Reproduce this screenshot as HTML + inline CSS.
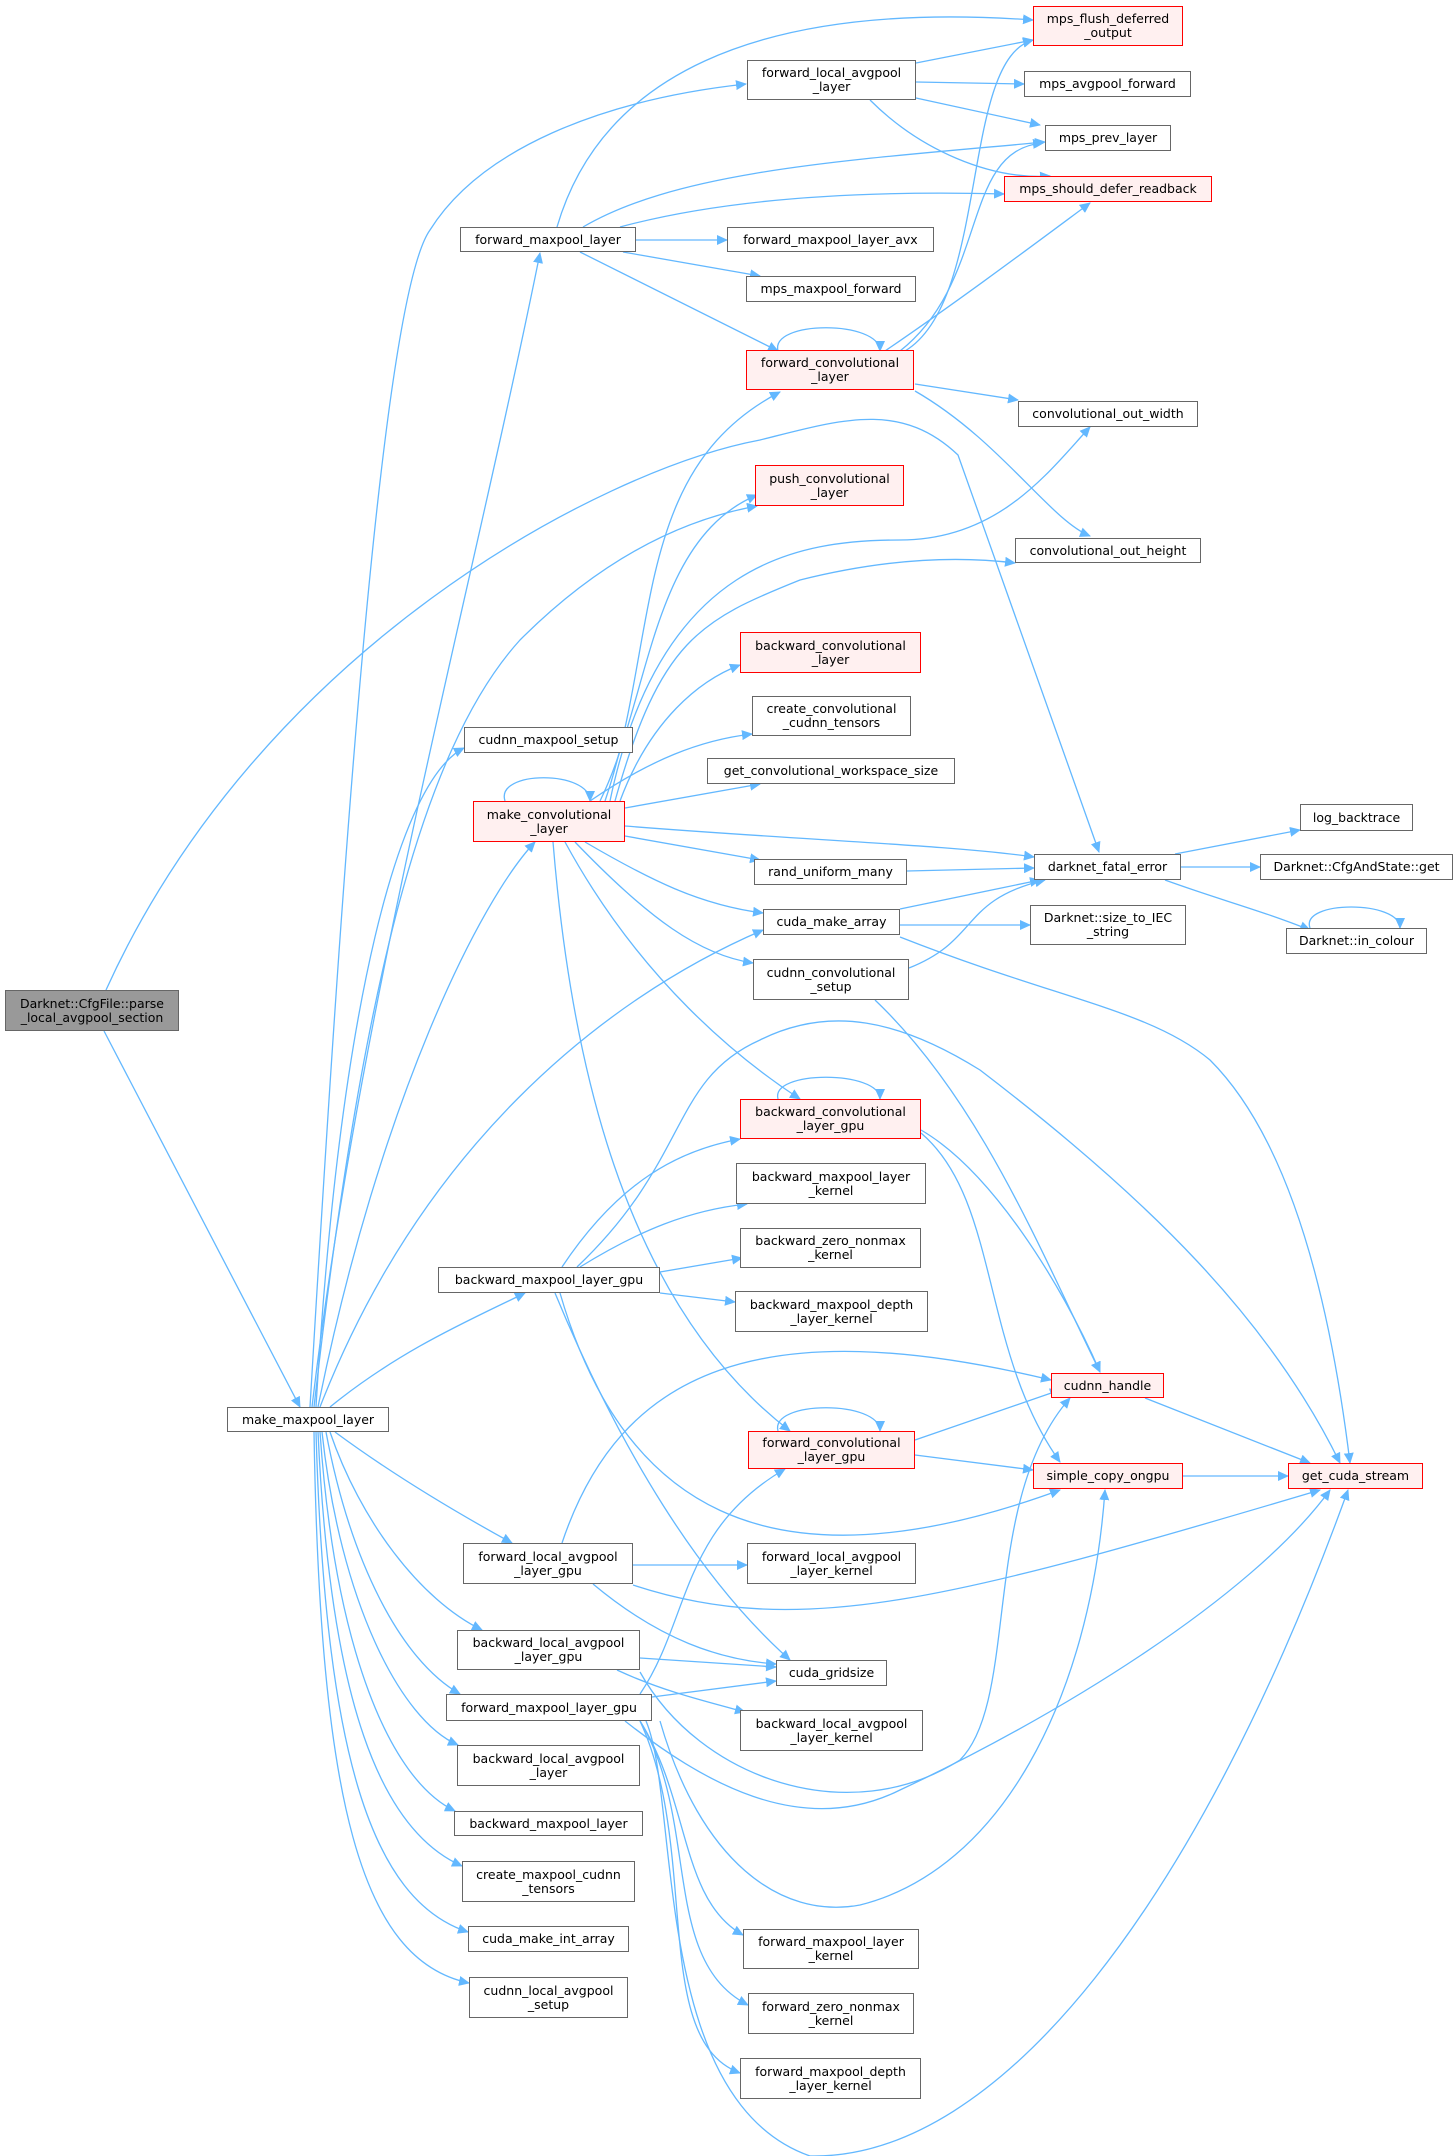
<!DOCTYPE html>
<html><head><meta charset="utf-8"><style>
html,body{margin:0;padding:0;background:#fff;}
body{width:1455px;height:2156px;position:relative;overflow:hidden;font-family:"DejaVu Sans","Liberation Sans",sans-serif;}
.n{position:absolute;box-sizing:border-box;border:1.3px solid #666;background:#fff;color:#000;font-size:12.5px;line-height:14px;text-align:center;display:flex;align-items:center;justify-content:center;white-space:pre;}
.r{border-color:#f00;background:#fff0f0;}
.g{background:#999;border-color:#666;}
svg{position:absolute;left:0;top:0;}
</style></head><body>
<svg width="1455" height="2156" viewBox="0 0 1455 2156">
<defs><marker id="a" markerWidth="12" markerHeight="10" refX="10" refY="5" orient="auto" markerUnits="userSpaceOnUse"><path d="M0,0 L11,5 L0,10 z" fill="#63b8ff"/></marker></defs>
<g fill="none" stroke="#63b8ff" stroke-width="1.3" marker-end="url(#a)">
<path d="M104,1031 L300,1407"/>
<path d="M106,990 C260,650 600,470 760,440 C840,420 900,400 958,455 L1099,852"/>
<path d="M312,1407 C360,1000 470,600 540,253"/>
<path d="M310,1407 C340,900 380,300 430,230 C480,150 600,100 746,84"/>
<path d="M314,1407 C360,1000 420,750 520,640 C600,560 680,520 757,506"/>
<path d="M316,1407 C340,1000 400,780 464,748"/>
<path d="M318,1407 C380,1100 480,900 535,842"/>
<path d="M320,1407 C420,1150 600,1000 763,930"/>
<path d="M330,1407 C400,1350 470,1320 525,1293"/>
<path d="M335,1432 C400,1480 470,1520 512,1543"/>
<path d="M330,1432 C360,1520 420,1600 482,1630"/>
<path d="M326,1432 C350,1560 400,1660 460,1694"/>
<path d="M322,1432 C340,1600 400,1720 458,1745"/>
<path d="M320,1432 C335,1650 390,1780 455,1811"/>
<path d="M318,1432 C330,1700 380,1830 462,1866"/>
<path d="M316,1432 C325,1750 370,1900 468,1932"/>
<path d="M314,1432 C320,1800 360,1960 469,1983"/>
<path d="M557,227 C600,80 750,0 1033,20"/>
<path d="M583,227 C680,170 850,160 1045,142"/>
<path d="M620,227 C720,200 850,190 1004,194"/>
<path d="M636,240 L727,240"/>
<path d="M623,252 L760,276"/>
<path d="M580,252 L778,351"/>
<path d="M916,63 L1033,40"/>
<path d="M916,82 L1024,84"/>
<path d="M916,98 L1040,125"/>
<path d="M870,100 C920,150 990,180 1050,176"/>
<path d="M778,351 C770,320 880,320 880,351"/>
<path d="M905,351 C990,300 960,60 1033,40"/>
<path d="M900,351 C990,280 960,150 1043,143"/>
<path d="M885,351 C960,300 1040,240 1090,203"/>
<path d="M915,384 L1018,400"/>
<path d="M915,391 C1000,440 1050,520 1090,536"/>
<path d="M505,801 C495,770 590,770 590,801"/>
<path d="M605,801 C660,640 630,470 780,392"/>
<path d="M600,801 C650,700 650,540 757,495"/>
<path d="M610,801 C660,560 800,540 900,540 C1000,540 1050,470 1090,427"/>
<path d="M615,801 C660,640 700,620 800,580 C880,560 950,555 1015,563"/>
<path d="M620,801 C650,720 700,680 740,665"/>
<path d="M590,801 C650,760 700,740 752,734"/>
<path d="M625,808 L760,784"/>
<path d="M625,826 C800,840 950,845 1034,857"/>
<path d="M625,836 L760,860"/>
<path d="M585,842 C650,880 700,905 763,913"/>
<path d="M575,842 C650,920 700,955 753,963"/>
<path d="M565,842 C640,980 740,1060 800,1099"/>
<path d="M553,842 C570,1050 620,1300 790,1431"/>
<path d="M1175,854 L1300,830"/>
<path d="M1181,867 L1260,867"/>
<path d="M1165,880 C1220,900 1260,910 1310,930"/>
<path d="M1310,928 C1300,900 1400,900 1400,928"/>
<path d="M907,871 L1034,868"/>
<path d="M900,909 L1040,880"/>
<path d="M900,925 L1030,925"/>
<path d="M900,937 C1060,1000 1150,1010 1210,1060 C1290,1140 1330,1300 1350,1463"/>
<path d="M909,968 C980,940 960,900 1045,880"/>
<path d="M875,1000 C980,1100 1040,1250 1100,1372"/>
<path d="M778,1099 C770,1070 880,1070 880,1099"/>
<path d="M921,1130 C990,1170 1060,1280 1100,1372"/>
<path d="M921,1133 C1000,1200 980,1350 1060,1462"/>
<path d="M562,1267 C620,1180 680,1150 740,1139"/>
<path d="M580,1267 C640,1230 690,1210 747,1204"/>
<path d="M660,1272 L742,1258"/>
<path d="M660,1293 L735,1302"/>
<path d="M577,1267 C690,1160 670,1080 760,1040 C830,1005 900,1020 980,1070 C1150,1200 1270,1320 1340,1463"/>
<path d="M555,1293 C620,1450 700,1580 790,1660"/>
<path d="M560,1293 C620,1500 760,1600 1060,1490"/>
<path d="M778,1431 C770,1400 880,1400 880,1431"/>
<path d="M915,1440 L1060,1390"/>
<path d="M915,1455 L1033,1470"/>
<path d="M1145,1398 L1310,1463"/>
<path d="M1183,1476 L1288,1476"/>
<path d="M562,1543 C620,1370 760,1310 1051,1380"/>
<path d="M633,1565 L747,1565"/>
<path d="M633,1585 C800,1640 950,1600 1320,1490"/>
<path d="M593,1584 C660,1640 720,1660 776,1664"/>
<path d="M640,1658 L776,1667"/>
<path d="M617,1670 C660,1690 700,1700 745,1712"/>
<path d="M640,1672 C700,1780 850,1830 960,1760 C1020,1700 980,1500 1070,1398"/>
<path d="M625,1721 C700,1780 800,1840 900,1790 C1050,1720 1250,1600 1330,1490"/>
<path d="M640,1694 C690,1620 680,1530 785,1469"/>
<path d="M652,1697 L776,1681"/>
<path d="M660,1721 C700,1860 780,1920 860,1905 C1000,1870 1090,1700 1105,1490"/>
<path d="M646,1721 C680,1800 650,2100 810,2156 C1000,2160 1200,1900 1348,1490"/>
<path d="M640,1721 C690,1800 680,1900 743,1935"/>
<path d="M640,1721 C700,1820 660,1960 748,2005"/>
<path d="M640,1721 C700,1850 650,2040 740,2073"/>
</g>
</svg>
<div class="n g" style="left:5px;top:990px;width:174px;height:41px">Darknet::CfgFile::parse
_local_avgpool_section</div>
<div class="n" style="left:227px;top:1407px;width:162px;height:25px">make_maxpool_layer</div>
<div class="n r" style="left:1033px;top:6px;width:150px;height:40px">mps_flush_deferred
_output</div>
<div class="n" style="left:747px;top:60px;width:169px;height:40px">forward_local_avgpool
_layer</div>
<div class="n" style="left:1024px;top:71px;width:167px;height:26px">mps_avgpool_forward</div>
<div class="n" style="left:1045px;top:125px;width:126px;height:26px">mps_prev_layer</div>
<div class="n r" style="left:1004px;top:176px;width:208px;height:26px">mps_should_defer_readback</div>
<div class="n" style="left:460px;top:227px;width:176px;height:25px">forward_maxpool_layer</div>
<div class="n" style="left:727px;top:227px;width:207px;height:25px">forward_maxpool_layer_avx</div>
<div class="n" style="left:746px;top:276px;width:170px;height:26px">mps_maxpool_forward</div>
<div class="n r" style="left:746px;top:350px;width:168px;height:40px">forward_convolutional
_layer</div>
<div class="n" style="left:1018px;top:401px;width:180px;height:26px">convolutional_out_width</div>
<div class="n r" style="left:755px;top:465px;width:149px;height:41px">push_convolutional
_layer</div>
<div class="n" style="left:1015px;top:538px;width:186px;height:25px">convolutional_out_height</div>
<div class="n r" style="left:740px;top:632px;width:181px;height:41px">backward_convolutional
_layer</div>
<div class="n" style="left:752px;top:696px;width:159px;height:40px">create_convolutional
_cudnn_tensors</div>
<div class="n" style="left:464px;top:727px;width:169px;height:26px">cudnn_maxpool_setup</div>
<div class="n" style="left:707px;top:758px;width:248px;height:26px">get_convolutional_workspace_size</div>
<div class="n r" style="left:473px;top:801px;width:152px;height:41px">make_convolutional
_layer</div>
<div class="n" style="left:1300px;top:804px;width:113px;height:27px">log_backtrace</div>
<div class="n" style="left:1034px;top:854px;width:147px;height:26px">darknet_fatal_error</div>
<div class="n" style="left:1260px;top:854px;width:193px;height:26px">Darknet::CfgAndState::get</div>
<div class="n" style="left:754px;top:859px;width:153px;height:26px">rand_uniform_many</div>
<div class="n" style="left:763px;top:909px;width:137px;height:26px">cuda_make_array</div>
<div class="n" style="left:1030px;top:905px;width:156px;height:40px">Darknet::size_to_IEC
_string</div>
<div class="n" style="left:1286px;top:928px;width:141px;height:26px">Darknet::in_colour</div>
<div class="n" style="left:753px;top:959px;width:156px;height:41px">cudnn_convolutional
_setup</div>
<div class="n r" style="left:740px;top:1099px;width:181px;height:40px">backward_convolutional
_layer_gpu</div>
<div class="n" style="left:736px;top:1163px;width:190px;height:41px">backward_maxpool_layer
_kernel</div>
<div class="n" style="left:740px;top:1228px;width:181px;height:40px">backward_zero_nonmax
_kernel</div>
<div class="n" style="left:438px;top:1267px;width:222px;height:26px">backward_maxpool_layer_gpu</div>
<div class="n" style="left:735px;top:1291px;width:193px;height:41px">backward_maxpool_depth
_layer_kernel</div>
<div class="n r" style="left:1051px;top:1373px;width:113px;height:25px">cudnn_handle</div>
<div class="n r" style="left:748px;top:1431px;width:167px;height:38px">forward_convolutional
_layer_gpu</div>
<div class="n r" style="left:1033px;top:1463px;width:150px;height:26px">simple_copy_ongpu</div>
<div class="n r" style="left:1288px;top:1463px;width:135px;height:26px">get_cuda_stream</div>
<div class="n" style="left:463px;top:1543px;width:170px;height:41px">forward_local_avgpool
_layer_gpu</div>
<div class="n" style="left:747px;top:1543px;width:169px;height:41px">forward_local_avgpool
_layer_kernel</div>
<div class="n" style="left:457px;top:1630px;width:183px;height:40px">backward_local_avgpool
_layer_gpu</div>
<div class="n" style="left:776px;top:1660px;width:111px;height:26px">cuda_gridsize</div>
<div class="n" style="left:446px;top:1694px;width:206px;height:27px">forward_maxpool_layer_gpu</div>
<div class="n" style="left:740px;top:1710px;width:183px;height:41px">backward_local_avgpool
_layer_kernel</div>
<div class="n" style="left:457px;top:1745px;width:183px;height:41px">backward_local_avgpool
_layer</div>
<div class="n" style="left:454px;top:1811px;width:189px;height:25px">backward_maxpool_layer</div>
<div class="n" style="left:462px;top:1861px;width:173px;height:41px">create_maxpool_cudnn
_tensors</div>
<div class="n" style="left:468px;top:1926px;width:161px;height:26px">cuda_make_int_array</div>
<div class="n" style="left:743px;top:1929px;width:176px;height:40px">forward_maxpool_layer
_kernel</div>
<div class="n" style="left:469px;top:1977px;width:159px;height:41px">cudnn_local_avgpool
_setup</div>
<div class="n" style="left:748px;top:1993px;width:166px;height:41px">forward_zero_nonmax
_kernel</div>
<div class="n" style="left:740px;top:2058px;width:181px;height:41px">forward_maxpool_depth
_layer_kernel</div>
</body></html>
